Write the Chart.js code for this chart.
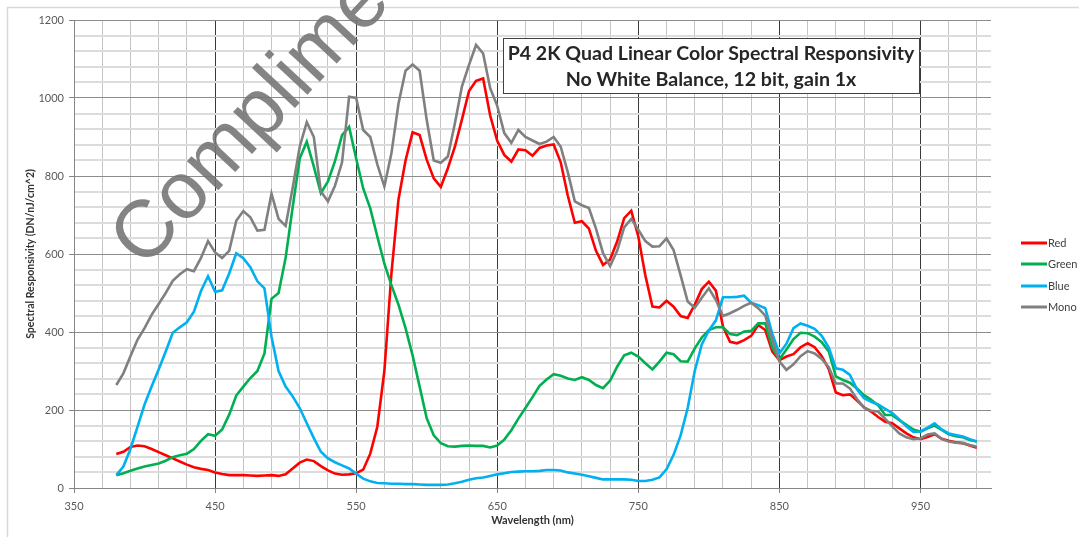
<!DOCTYPE html>
<html><head><meta charset="utf-8">
<script src="https://cdn.jsdelivr.net/npm/chart.js@4/dist/chart.umd.min.js"></script>
<style>html,body{margin:0;padding:0;background:#fff;overflow:hidden}#wrap{width:1079px;height:537px;position:relative}</style>
</head><body><div id="wrap"><canvas id="c" width="1079" height="537"></canvas></div>
<script>
const wavelengths = [380,385,390,395,400,405,410,415,420,425,430,435,440,445,450,455,460,465,470,475,480,485,490,495,500,505,510,515,520,525,530,535,540,545,550,555,560,565,570,575,580,585,590,595,600,605,610,615,620,625,630,635,640,645,650,655,660,665,670,675,680,685,690,695,700,705,710,715,720,725,730,735,740,745,750,755,760,765,770,775,780,785,790,795,800,805,810,815,820,825,830,835,840,845,850,855,860,865,870,875,880,885,890,895,900,905,910,915,920,925,930,935,940,945,950,955,960,965,970,975,980,985,990];
const redValues = [87,93,105,109,107,100,92,84,76,68, 60,53,49,46,40,36,33,33,33,32, 31,32,33,31,35,50,65,73,69,56, 45,37,34,35,38,47,88,157,300,550, 740,840,912,905,842,794,772,820,875,945, 1018,1044,1050,955,890,854,837,868,866,852, 872,878,881,835,750,680,684,665,608,572, 586,632,692,711,645,545,465,463,480,465, 441,436,470,510,529,506,414,375,371,379, 390,418,405,350,328,337,343,361,371,361, 338,305,245,238,240,224,207,196,182,170, 166,153,140,130,125,131,138,126,121,117, 115,109,103];
const greenValues = [33,38,44,50,55,59,63,70,79,84, 88,100,121,138,134,150,188,237,260,282, 300,345,485,500,590,720,845,888,824,756, 786,838,905,926,845,768,717,645,575,520, 470,410,340,260,179,135,115,107,106,108, 109,108,108,104,109,124,148,178,205,233, 262,278,292,288,281,277,284,277,264,256, 275,311,340,347,337,320,304,324,347,343, 325,324,358,386,405,412,412,395,392,401, 403,422,422,360,330,355,382,398,397,388, 374,350,286,277,270,255,238,226,212,187, 187,174,162,150,144,153,160,149,138,133, 130,123,119];
const blueValues = [33,55,100,157,214,260,304,350,398,412, 425,452,505,543,503,507,550,602,589,566, 530,512,388,300,260,235,205,166,128,93, 76,66,58,50,37,24,17,13,12,11, 11,10,10,9,8,8,8,9,12,16, 21,25,27,31,35,38,41,42,43,43, 44,46,46,45,40,37,34,30,26,22, 22,22,22,21,18,18,21,27,48,85, 135,205,300,368,404,430,489,489,490,493, 475,469,461,395,345,370,410,422,416,408, 390,360,307,303,290,253,230,221,214,203, 192,176,158,144,145,155,166,150,140,136, 132,125,119];
const monoValues = [264,294,338,380,410,444,472,500,531,548, 561,556,590,633,604,590,608,685,710,694, 660,662,755,690,672,770,875,938,900,760, 735,775,835,1003,1000,918,900,830,773,858, 985,1070,1086,1070,944,840,834,850,935,1030, 1085,1136,1114,1025,980,910,885,918,900,891, 882,888,900,875,810,735,725,718,665,602, 569,608,668,690,662,633,619,620,640,610, 545,478,462,488,512,482,441,448,457,467, 475,461,442,380,325,303,317,338,351,345, 331,310,268,268,255,228,206,198,196,177, 158,140,130,125,127,137,140,126,119,116, 115,110,106];
const seriesNames = ['Red','Green','Blue','Mono'];
const seriesColors = ['#ff0000','#00b050','#00b0f0','#808080'];
const xTickValues = [350,370,390,410,430,450,470,490,510,530,550,570,590,610,630,650,670,690,710,730,750,770,790,810,830,850,870,890,910,930,950,970,990];
const yTickValues = [0,40,80,120,160,200,240,280,320,360,400,440,480,520,560,600,640,680,720,760,800,840,880,920,960,1000,1040,1080,1120,1160,1200];
const titleLines = ['P4 2K Quad Linear Color Spectral Responsivity','No White Balance, 12 bit, gain 1x'];
const watermarkText = 'Complimentary';

const toPts = arr => arr.map((v,i)=>({x:wavelengths[i], y:v}));
const allValues = [redValues, greenValues, blueValues, monoValues];

const decor = {
  id:'decor',
  beforeDraw(chart){
    const ctx = chart.ctx;
    ctx.save();
    ctx.fillStyle = '#fff';
    ctx.fillRect(0,0,chart.width,chart.height);
    ctx.strokeStyle = '#d9d9d9';
    ctx.lineWidth = 1.5;
    ctx.strokeRect(7.5,7.5,1300,900);
    ctx.restore();
  },
  beforeDatasetsDraw(chart){
    const ctx = chart.ctx;
    ctx.save();
    ctx.translate(144, 270);
    ctx.rotate(-47*Math.PI/180);
    ctx.font = '81px "Liberation Sans"';
    ctx.fillStyle = 'rgba(115,115,115,0.88)';
    ctx.textBaseline = 'alphabetic';
    ctx.fillText(watermarkText, 0, 0);
    ctx.restore();
  },
  afterDraw(chart){
    const ctx = chart.ctx;
    ctx.save();
    const bx=503.5, by=38.5, bw=416, bh=55;
    ctx.fillStyle='#fff'; ctx.fillRect(bx,by,bw,bh);
    ctx.strokeStyle='#404040'; ctx.lineWidth=1; ctx.strokeRect(bx,by,bw,bh);
    ctx.fillStyle='#262626'; ctx.textAlign='center'; ctx.textBaseline='middle';
    const targets=[407,291]; const ys=[54,80];
    titleLines.forEach((t,i)=>{
      let size=18; ctx.font='bold '+size+'px Lato';
      const w=ctx.measureText(t).width; size=size*targets[i]/w;
      ctx.font='bold '+size.toFixed(2)+'px Lato';
      ctx.fillText(t, 711, ys[i]);
    });
    const ly=[243,264,286,307];
    ctx.textAlign='left'; ctx.textBaseline='middle'; ctx.font='11px Lato';
    chart.data.datasets.forEach((ds,i)=>{
      ctx.strokeStyle=ds.borderColor; ctx.lineWidth=3;
      ctx.beginPath(); ctx.moveTo(1021,ly[i]); ctx.lineTo(1047,ly[i]); ctx.stroke();
      ctx.fillStyle='#404040'; ctx.fillText(ds.label,1048,ly[i]+0.5);
    });
    ctx.restore();
  }
};

Chart.defaults.font.family = 'Lato';
new Chart(document.getElementById('c'), {
  type:'line',
  data:{
    datasets: seriesNames.map((n,i)=>({
      label:n, data:toPts(allValues[i]), borderColor:seriesColors[i], backgroundColor:seriesColors[i],
      borderWidth:2.6, pointRadius:0, tension:0, fill:false, order:4-i
    }))
  },
  options:{
    responsive:false, animation:false, devicePixelRatio:1,
    layout:{padding:{left:20,right:88,top:20,bottom:6}},
    plugins:{legend:{display:false}, tooltip:{enabled:false}},
    scales:{
      x:{
        type:'linear', min:350, max:1000,
        afterBuildTicks: s => { s.ticks = xTickValues.map(v=>({value:v})); },
        afterFit: s => { s.height = 43; },
        ticks:{ callback: v => ((v-350)%100===0 ? String(v) : ''), color:'#595959', font:{size:11}, padding:7, maxRotation:0, autoSkip:false },
        grid:{
          color: c => { const v=c.tick.value; if(v===350) return '#868686'; return (v-350)%100===0 ? '#3a3a3a' : '#c4c4c4'; },
          lineWidth: 1,
          tickLength:5,
          tickColor: c => ((c.tick.value-350)%100===0 ? '#868686' : 'rgba(0,0,0,0)')
        },
        border:{display:true,color:'#868686',width:1},
        title:{display:true,text:'Wavelength (nm)',color:'#333333',font:{size:11,weight:'bold'},padding:{top:4,bottom:4}}
      },
      y:{
        type:'linear', min:0, max:1200,
        afterBuildTicks: s => { s.ticks = yTickValues.map(v=>({value:v})); },
        afterFit: s => { s.width = 54; },
        ticks:{ callback: v => (v%200===0 ? String(v) : ''), color:'#595959', font:{size:11}, padding:5, autoSkip:false },
        grid:{
          color: c => (c.tick.value%200===0 ? '#8c8c8c' : '#dcdcdc'),
          lineWidth: c => (c.tick.value%200===0 ? 1 : 2),
          tickLength:5,
          tickColor: c => (c.tick.value%200===0 ? '#868686' : 'rgba(0,0,0,0)')
        },
        border:{display:true,color:'#868686',width:1},
        title:{display:true,text:'Spectral Responsivity (DN/nJ/cm^2)',color:'#333333',font:{size:10.5,weight:'bold'},padding:{top:4,bottom:4}}
      }
    }
  },
  plugins:[decor]
});
</script></body></html>
